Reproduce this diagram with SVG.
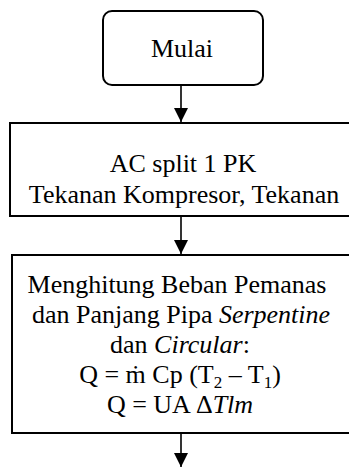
<svg xmlns="http://www.w3.org/2000/svg" width="349" height="468" viewBox="0 0 349 468">
  <defs>
    <marker id="arrow" markerWidth="14" markerHeight="14" refX="14" refY="7" orient="auto" markerUnits="userSpaceOnUse">
      <path d="M0,0 L14,7 L0,14 Z" fill="#000"/>
    </marker>
  </defs>
  <style>
    .box { fill: #fff; stroke: #000; stroke-width: 2; }
    .label { font-family: "Liberation Serif", "Times New Roman", serif; font-size: 26px; fill: #000; text-anchor: middle; }
    .it { font-style: italic; }
    .sub { font-size: 17px; }
    .conn { stroke: #000; stroke-width: 1.6; fill: none; marker-end: url(#arrow); }
  </style>

  <g id="connectors">
    <line class="conn" x1="181" y1="86" x2="181" y2="122"/>
    <line class="conn" x1="181" y1="217" x2="181" y2="254"/>
    <line class="conn" x1="181" y1="434" x2="181" y2="467"/>
  </g>

  <g id="start">
    <rect class="box" x="103" y="11" width="160" height="74" rx="9" ry="9"/>
    <text class="label" x="182" y="57">Mulai</text>
  </g>

  <g id="input">
    <rect class="box" x="10" y="123" width="345" height="93"/>
    <text class="label" x="183" y="172">AC split 1 PK</text>
    <text class="label" x="184" y="203">Tekanan Kompresor, Tekanan</text>
  </g>

  <g id="process">
    <rect class="box" x="12" y="255" width="345" height="178"/>
    <text class="label" x="177" y="293">Menghitung Beban Pemanas</text>
    <text class="label" x="181" y="323">dan Panjang Pipa <tspan class="it">Serpentine</tspan></text>
    <text class="label" x="180" y="353">dan <tspan class="it">Circular</tspan>:</text>
    <text class="label" x="180" y="383">Q = ṁ Cp (T<tspan class="sub" dy="5">2</tspan><tspan dy="-5"> – T</tspan><tspan class="sub" dy="5">1</tspan><tspan dy="-5">)</tspan></text>
    <text class="label" x="180" y="413">Q = UA Δ<tspan class="it">Tlm</tspan></text>
  </g>
</svg>
